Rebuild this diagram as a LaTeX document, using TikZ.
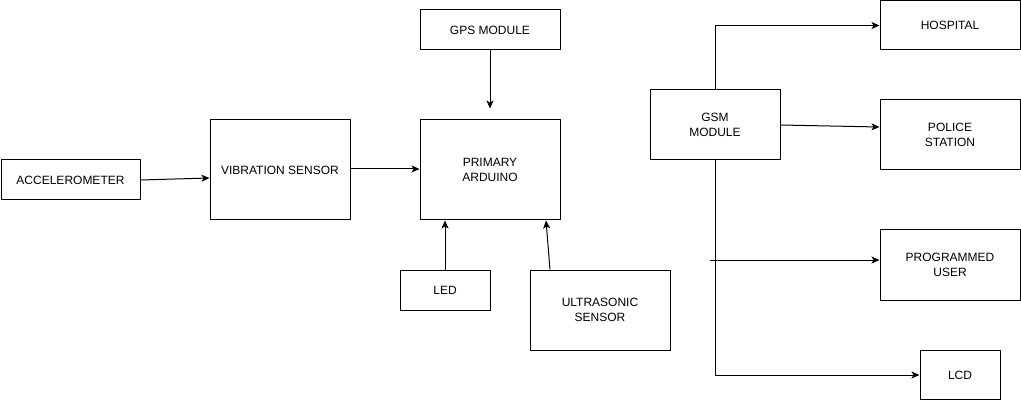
\documentclass[tikz,border=0pt]{standalone}
\usepackage{fontspec}
\setmainfont{Liberation Sans}
\usetikzlibrary{arrows.meta}
\begin{document}
\begin{tikzpicture}[x=1pt,y=-1pt,
  box/.style={draw=black,line width=1pt,align=center,inner sep=0pt,
    font=\fontsize{12}{15}\selectfont},
  arr/.style={draw=black,line width=1pt,-{Stealth[length=8pt,width=7pt,inset=2pt]}}]
\useasboundingbox (0,0) rectangle (1021,401);
\node[box,minimum width=139pt,minimum height=40pt] (acc) at (70.5,180) {ACCELEROMETER};
\node[box,minimum width=140pt,minimum height=100pt] (vib) at (280,170) {VIBRATION SENSOR};
\node[box,minimum width=140pt,minimum height=40pt] (gps) at (490,30) {GPS MODULE};
\node[box,minimum width=140pt,minimum height=100pt] (ard) at (490,170) {PRIMARY\\ARDUINO};
\node[box,minimum width=90pt,minimum height=40pt] (led) at (445,290) {LED};
\node[box,minimum width=140pt,minimum height=80pt] (ult) at (600,310) {ULTRASONIC\\SENSOR};
\node[box,minimum width=130pt,minimum height=70pt] (gsm) at (715,125) {GSM\\MODULE};
\node[box,minimum width=140pt,minimum height=49pt] (hos) at (950,25.5) {HOSPITAL};
\node[box,minimum width=140pt,minimum height=70pt] (pol) at (950,135) {POLICE\\STATION};
\node[box,minimum width=140pt,minimum height=70pt] (pu) at (950,265) {PROGRAMMED\\USER};
\node[box,minimum width=80pt,minimum height=49pt] (lcd) at (960,375) {LCD};
\coordinate (pstart) at (710,260);

\draw[arr] (acc.east) -- ([yshift=-8pt]vib.west);
\draw[arr] ([yshift=1pt]vib.east) -- ([yshift=1pt]ard.west);
\draw[arr] (gps.south) -- ([yshift=11pt]ard.north);
\draw[arr] (led.north) -- (led.north |- ard.south);
\draw[arr] ([xshift=-50pt]ult.north) -- ([xshift=56pt]ard.south);
\draw[arr] (gsm.north) |- (hos.west);
\draw[arr] (gsm.east) -- ([yshift=8pt]pol.west);
\draw[arr] (pstart) -- ([yshift=5pt]pu.west);
\draw[arr] (gsm.south) |- (lcd.west);
\end{tikzpicture}
\end{document}
